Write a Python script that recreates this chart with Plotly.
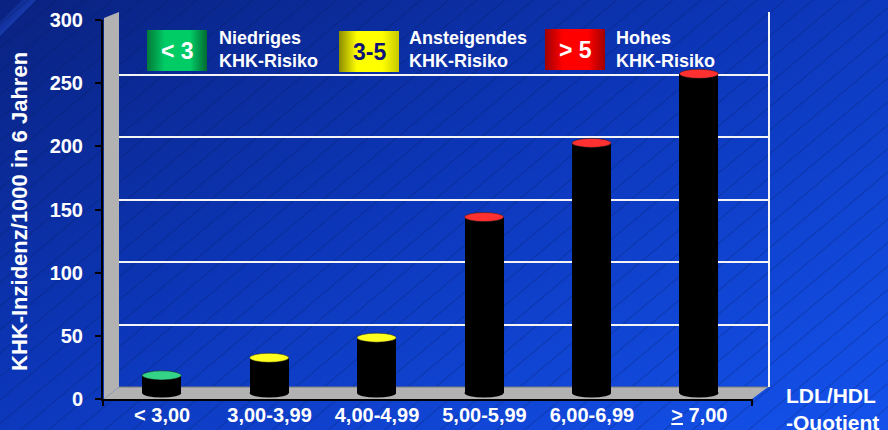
import base64
import plotly.graph_objects as go

# ---------------- data ----------------
categories = ["&lt; 3,00", "3,00-3,99", "4,00-4,99", "5,00-5,99", "6,00-6,99", "<u>&gt;</u> 7,00"]
incidence = [14, 28, 44, 140, 199, 254]
risk_group = ["low", "mid", "mid", "high", "high", "high"]
y_ticks = [0, 50, 100, 150, 200, 250, 300]
legend_keys = ["&lt; 3", "3-5", "&gt; 5"]
legend_texts = ["Niedriges<br>KHK-Risiko", "Ansteigendes<br>KHK-Risiko", "Hohes<br>KHK-Risiko"]
y_title = "KHK-Inzidenz/1000 in 6 Jahren"
x_title = "LDL/HDL<br>-Quotient"

# ---------------- style ----------------
W, H = 888, 430
FONT = "Liberation Sans, Arial, sans-serif"
top_colors = {"low": "#33d487", "mid": "#ffff1e", "high": "#ff3030"}


def px(x):
    return x / W


def py(y):
    return 1 - y / H


def svg_uri(svg):
    return "data:image/svg+xml;base64," + base64.b64encode(svg.encode()).decode()


bg_svg = f"""<svg xmlns='http://www.w3.org/2000/svg' width='{W}' height='{H}' viewBox='0 0 {W} {H}' preserveAspectRatio='none'>
<defs>
<linearGradient id='g' x1='0' y1='0' x2='1' y2='1'>
<stop offset='0' stop-color='#0a2280'/>
<stop offset='0.45' stop-color='#0c36b8'/>
<stop offset='1' stop-color='#1452ec'/>
</linearGradient>
<linearGradient id='h' x1='0' y1='0' x2='1' y2='1'>
<stop offset='0' stop-color='#0c2c9c' stop-opacity='0'/>
<stop offset='0.5' stop-color='#1a3cb0' stop-opacity='0.9'/>
<stop offset='1' stop-color='#0c2c9c' stop-opacity='0'/>
</linearGradient>
<pattern id='p' width='40' height='18' patternUnits='userSpaceOnUse' patternTransform='rotate(-40)'>
<line x1='0' y1='0.5' x2='40' y2='0.5' stroke='#041550' stroke-width='0.8' stroke-opacity='0.35'/>
</pattern>
</defs>
<rect width='{W}' height='{H}' fill='url(#g)'/>
<polygon points='0,22 22,0 36,0 0,36' fill='url(#h)'/>
<rect width='{W}' height='{H}' fill='url(#p)'/>
</svg>"""


def box_svg(dark, bright, dark2):
    return f"""<svg xmlns='http://www.w3.org/2000/svg' width='60' height='41' viewBox='0 0 60 41' preserveAspectRatio='none'>
<defs><linearGradient id='b' x1='0' y1='0' x2='1' y2='0'>
<stop offset='0' stop-color='{dark}'/>
<stop offset='0.3' stop-color='{bright}'/>
<stop offset='0.72' stop-color='{bright}'/>
<stop offset='1' stop-color='{dark2}'/>
</linearGradient></defs>
<rect width='60' height='41' fill='url(#b)'/>
</svg>"""


boxes = [
    (147, 30, box_svg("#007a38", "#00cc66", "#006a30"), "white"),
    (339, 31, box_svg("#8c8c00", "#ffff00", "#c8c800"), "#10127a"),
    (545, 29, box_svg("#a00000", "#ff0000", "#a00000"), "white"),
]

idx = list(range(len(categories)))

fig = go.Figure()
# front axis (ticks and labels)
fig.add_trace(go.Scatter(x=idx, y=incidence, mode="none", xaxis="x", yaxis="y",
                         hoverinfo="skip", showlegend=False))
# back wall (gridlines)
fig.add_trace(go.Scatter(x=idx, y=incidence, mode="none", xaxis="x2", yaxis="y2",
                         hoverinfo="skip", showlegend=False))
# cylinders (middle depth)
fig.add_trace(go.Bar(x=idx, y=incidence, xaxis="x3", yaxis="y3", width=0.363,
                     marker=dict(color="black", line=dict(width=0)),
                     hoverinfo="skip", showlegend=False))

xr = [-0.55, 5.49]
xr_mid = [-0.472, 5.568]

fig.update_layout(
    template="none",
    width=W, height=H,
    margin=dict(l=0, r=0, t=0, b=0, pad=0, autoexpand=False),
    paper_bgcolor="#0c34b0",
    plot_bgcolor="rgba(0,0,0,0)",
    font=dict(family=FONT, color="white"),
    showlegend=False,
    xaxis=dict(domain=[px(103), px(752)], range=xr, anchor="y", automargin=False,
               tickmode="array", tickvals=idx, ticktext=[f"<b>{c}</b>" for c in categories],
               ticks="", showgrid=False, zeroline=False,
               showline=True, linecolor="black", linewidth=2,
               tickfont=dict(size=20, color="white", family=FONT), ticklabelstandoff=-3),
    yaxis=dict(domain=[py(399), py(20)], range=[0, 300], anchor="x", automargin=False,
               tickmode="array", tickvals=y_ticks, ticktext=[f"<b>{v}</b>" for v in y_ticks],
               ticks="outside", ticklen=6, tickwidth=2, tickcolor="black",
               showgrid=False, zeroline=False,
               showline=True, linecolor="black", linewidth=2,
               tickfont=dict(size=20, color="white", family=FONT), ticklabelstandoff=8),
    xaxis2=dict(domain=[px(119), px(768)], range=xr, anchor="y2", visible=False, automargin=False),
    yaxis2=dict(domain=[py(387), py(12)], range=[0, 300], anchor="x2", side="right", automargin=False,
                tickmode="array", tickvals=y_ticks[1:], showticklabels=False, ticks="",
                showgrid=True, gridcolor="#f4f4f4", gridwidth=2, zeroline=False,
                showline=True, linecolor="#f4f4f4", linewidth=2),
    xaxis3=dict(domain=[px(111), px(760)], range=xr_mid, anchor="y3", visible=False, automargin=False),
    yaxis3=dict(domain=[py(400.5), py(16)], range=[-6, 300], anchor="x3", visible=False, automargin=False),
    bargap=0,
)

images = [dict(source=svg_uri(bg_svg), xref="paper", yref="paper", x=0, y=1,
               sizex=1, sizey=1, sizing="stretch", layer="below", xanchor="left", yanchor="top")]
for (bx, by, svg, _c) in boxes:
    images.append(dict(source=svg_uri(svg), xref="paper", yref="paper", x=px(bx), y=py(by),
                       sizex=60 / W, sizey=41 / H, sizing="stretch", layer="above",
                       xanchor="left", yanchor="top"))
fig.update_layout(images=images)

shapes = []


def poly(pts):
    return "M " + " L ".join(f"{px(x):.5f},{py(y):.5f}" for x, y in pts) + " Z"


# side wall and floor
shapes.append(dict(type="path", xref="paper", yref="paper", layer="below",
                   path=poly([(104, 399), (104, 18), (119, 12), (119, 387)]),
                   fillcolor="#b2b2b2", line=dict(width=0)))
shapes.append(dict(type="path", xref="paper", yref="paper", layer="below",
                   path=poly([(104, 399), (119, 387), (768, 387), (752, 399)]),
                   fillcolor="#b2b2b2", line=dict(width=0)))
shapes.append(dict(type="line", xref="paper", yref="paper", layer="below",
                   x0=px(119), x1=px(768), y0=py(387), y1=py(387),
                   line=dict(color="#7a7a7a", width=1)))
# small end ticks of the category axis
for xx in (103, 752):
    shapes.append(dict(type="line", xref="paper", yref="paper",
                       x0=px(xx), x1=px(xx), y0=py(399), y1=py(406),
                       line=dict(color="black", width=2)))

hh = 3.6   # half height of the cylinder ellipses (data units)
hw = 0.363 / 2
for i, v in enumerate(incidence):
    shapes.append(dict(type="circle", xref="x3", yref="y3", layer="above",
                       x0=i - hw, x1=i + hw, y0=-hh, y1=hh,
                       fillcolor="black", line=dict(width=0)))
    shapes.append(dict(type="circle", xref="x3", yref="y3", layer="above",
                       x0=i - hw, x1=i + hw, y0=v - hh, y1=v + hh,
                       fillcolor=top_colors[risk_group[i]], line=dict(color="#1a1a1a", width=0.5)))
fig.update_layout(shapes=shapes)

annotations = []
for (bx, by, _svg, col), key, txt in zip(boxes, legend_keys, legend_texts):
    annotations.append(dict(xref="paper", yref="paper", x=px(bx + 30), y=py(by + 21),
                            text=f"<b>{key}</b>", showarrow=False, xanchor="center", yanchor="middle",
                            font=dict(size=23, color=col, family=FONT)))
legend_text_x = [217, 407, 614]
for lx, txt in zip(legend_text_x, legend_texts):
    annotations.append(dict(xref="paper", yref="paper", x=px(lx), y=py(49),
                            text=f"<b>{txt}</b>", showarrow=False, xanchor="left", yanchor="middle",
                            align="left", font=dict(size=18, color="white", family=FONT)))
annotations.append(dict(xref="paper", yref="paper", x=px(19), y=py(212),
                        text=f"<b>{y_title}</b>", textangle=-90, showarrow=False,
                        xanchor="center", yanchor="middle",
                        font=dict(size=22, color="white", family=FONT)))
annotations.append(dict(xref="paper", yref="paper", x=px(784), y=py(409),
                        text=f"<b>{x_title}</b>", showarrow=False, xanchor="left", yanchor="middle",
                        align="left", font=dict(size=21, color="white", family=FONT)))
fig.update_layout(annotations=annotations)

fig.write_html(
    "out.html",
    config={"displayModeBar": False},
    post_script="document.body.style.margin='0';document.body.style.overflow='hidden';"
                "document.body.style.background='#0c34b0';",
)
